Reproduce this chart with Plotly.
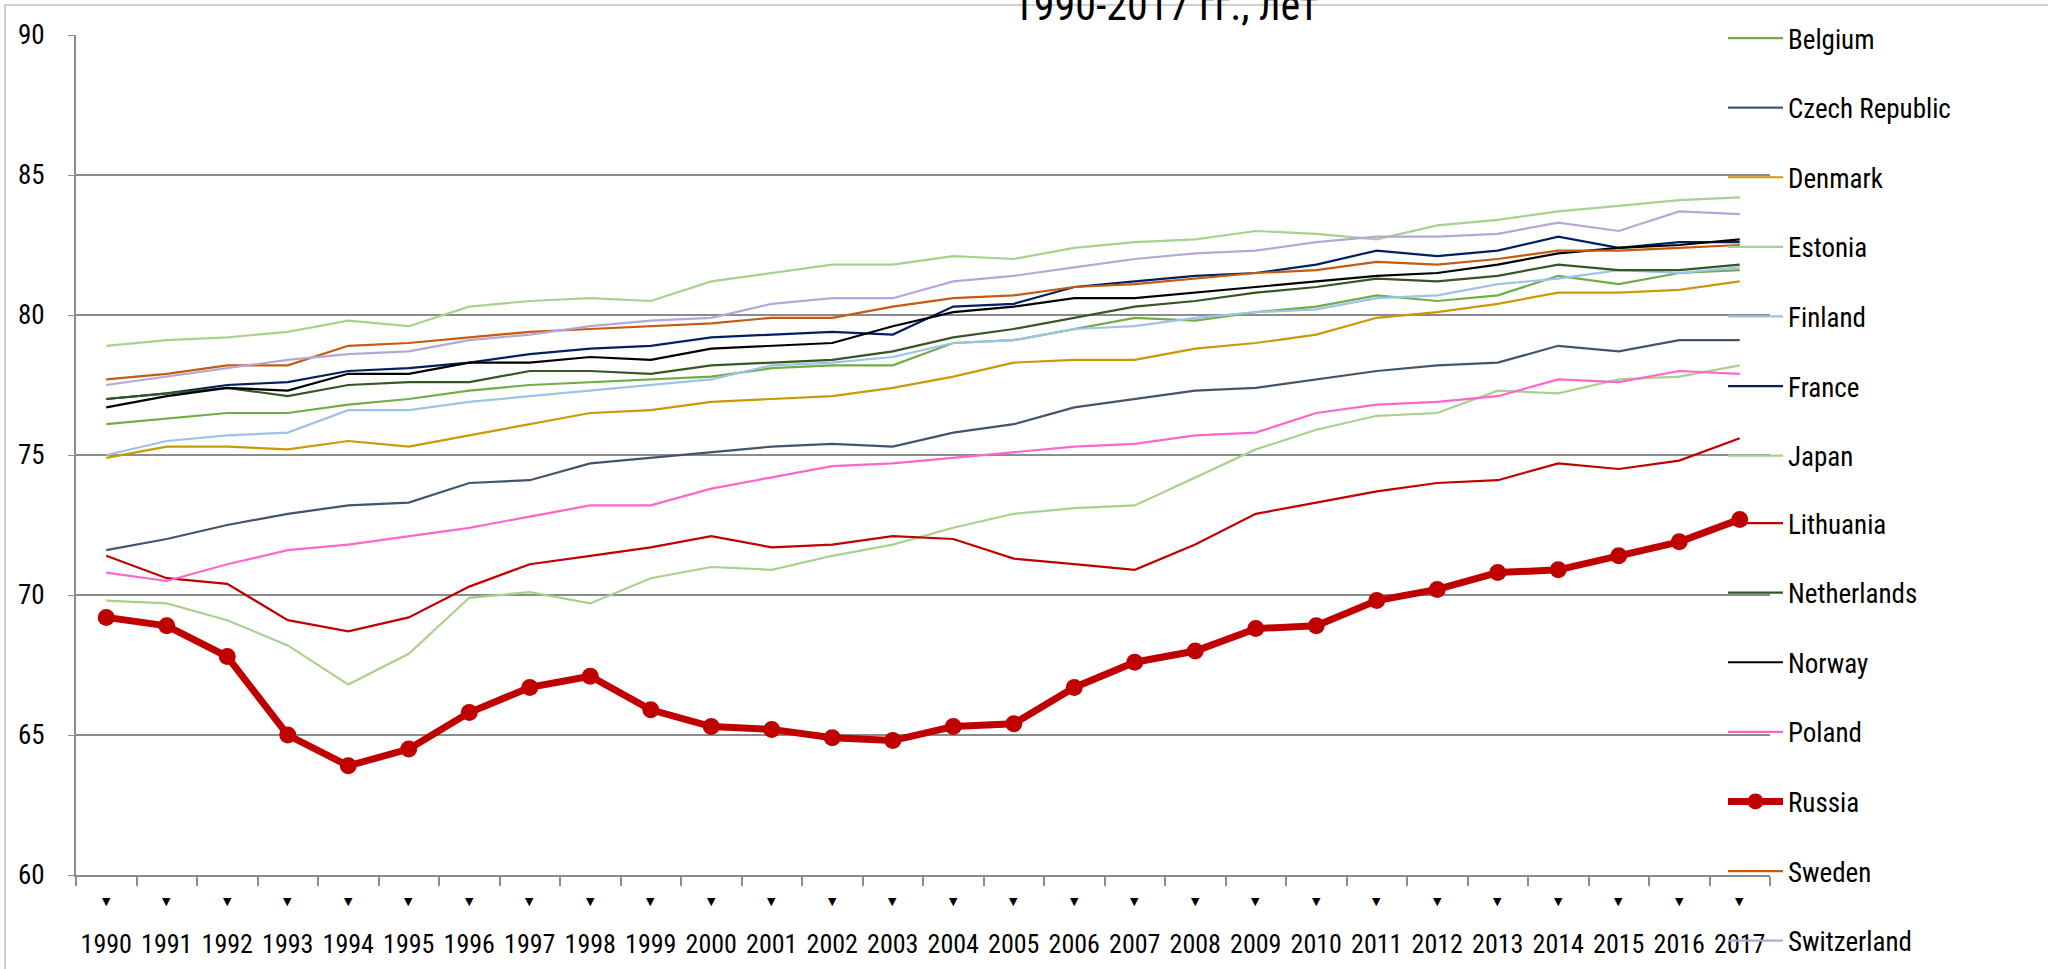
import plotly.graph_objects as go

years = [str(y) for y in range(1990, 2018)]

belgium = [76.1, 76.3, 76.5, 76.5, 76.8, 77.0, 77.3, 77.5, 77.6, 77.7, 77.8, 78.1, 78.2, 78.2, 79.0, 79.1, 79.5, 79.9, 79.8, 80.1, 80.3, 80.7, 80.5, 80.7, 81.4, 81.1, 81.5, 81.6]
czech = [71.6, 72.0, 72.5, 72.9, 73.2, 73.3, 74.0, 74.1, 74.7, 74.9, 75.1, 75.3, 75.4, 75.3, 75.8, 76.1, 76.7, 77.0, 77.3, 77.4, 77.7, 78.0, 78.2, 78.3, 78.9, 78.7, 79.1, 79.1]
denmark = [74.9, 75.3, 75.3, 75.2, 75.5, 75.3, 75.7, 76.1, 76.5, 76.6, 76.9, 77.0, 77.1, 77.4, 77.8, 78.3, 78.4, 78.4, 78.8, 79.0, 79.3, 79.9, 80.1, 80.4, 80.8, 80.8, 80.9, 81.2]
estonia = [69.8, 69.7, 69.1, 68.2, 66.8, 67.9, 69.9, 70.1, 69.7, 70.6, 71.0, 70.9, 71.4, 71.8, 72.4, 72.9, 73.1, 73.2, 74.2, 75.2, 75.9, 76.4, 76.5, 77.3, 77.2, 77.7, 77.8, 78.2]
finland = [75.0, 75.5, 75.7, 75.8, 76.6, 76.6, 76.9, 77.1, 77.3, 77.5, 77.7, 78.2, 78.3, 78.5, 79.0, 79.1, 79.5, 79.6, 79.9, 80.1, 80.2, 80.6, 80.7, 81.1, 81.3, 81.6, 81.5, 81.7]
france = [77.0, 77.2, 77.5, 77.6, 78.0, 78.1, 78.3, 78.6, 78.8, 78.9, 79.2, 79.3, 79.4, 79.3, 80.3, 80.4, 81.0, 81.2, 81.4, 81.5, 81.8, 82.3, 82.1, 82.3, 82.8, 82.4, 82.6, 82.6]
japan = [78.9, 79.1, 79.2, 79.4, 79.8, 79.6, 80.3, 80.5, 80.6, 80.5, 81.2, 81.5, 81.8, 81.8, 82.1, 82.0, 82.4, 82.6, 82.7, 83.0, 82.9, 82.7, 83.2, 83.4, 83.7, 83.9, 84.1, 84.2]
lithuania = [71.4, 70.6, 70.4, 69.1, 68.7, 69.2, 70.3, 71.1, 71.4, 71.7, 72.1, 71.7, 71.8, 72.1, 72.0, 71.3, 71.1, 70.9, 71.8, 72.9, 73.3, 73.7, 74.0, 74.1, 74.7, 74.5, 74.8, 75.6]
netherlands = [77.0, 77.2, 77.4, 77.1, 77.5, 77.6, 77.6, 78.0, 78.0, 77.9, 78.2, 78.3, 78.4, 78.7, 79.2, 79.5, 79.9, 80.3, 80.5, 80.8, 81.0, 81.3, 81.2, 81.4, 81.8, 81.6, 81.6, 81.8]
norway = [76.7, 77.1, 77.4, 77.3, 77.9, 77.9, 78.3, 78.3, 78.5, 78.4, 78.8, 78.9, 79.0, 79.6, 80.1, 80.3, 80.6, 80.6, 80.8, 81.0, 81.2, 81.4, 81.5, 81.8, 82.2, 82.4, 82.5, 82.7]
poland = [70.8, 70.5, 71.1, 71.6, 71.8, 72.1, 72.4, 72.8, 73.2, 73.2, 73.8, 74.2, 74.6, 74.7, 74.9, 75.1, 75.3, 75.4, 75.7, 75.8, 76.5, 76.8, 76.9, 77.1, 77.7, 77.6, 78.0, 77.9]
russia = [69.2, 68.9, 67.8, 65.0, 63.9, 64.5, 65.8, 66.7, 67.1, 65.9, 65.3, 65.2, 64.9, 64.8, 65.3, 65.4, 66.7, 67.6, 68.0, 68.8, 68.9, 69.8, 70.2, 70.8, 70.9, 71.4, 71.9, 72.7]
sweden = [77.7, 77.9, 78.2, 78.2, 78.9, 79.0, 79.2, 79.4, 79.5, 79.6, 79.7, 79.9, 79.9, 80.3, 80.6, 80.7, 81.0, 81.1, 81.3, 81.5, 81.6, 81.9, 81.8, 82.0, 82.3, 82.3, 82.4, 82.5]
switzerland = [77.5, 77.8, 78.1, 78.4, 78.6, 78.7, 79.1, 79.3, 79.6, 79.8, 79.9, 80.4, 80.6, 80.6, 81.2, 81.4, 81.7, 82.0, 82.2, 82.3, 82.6, 82.8, 82.8, 82.9, 83.3, 83.0, 83.7, 83.6]

countries = ["Belgium", "Czech Republic", "Denmark", "Estonia", "Finland", "France", "Japan",
             "Lithuania", "Netherlands", "Norway", "Poland", "Russia", "Sweden", "Switzerland"]
series = [belgium, czech, denmark, estonia, finland, france, japan,
          lithuania, netherlands, norway, poland, russia, sweden, switzerland]
colors = ["#70AD47", "#44546A", "#C99A06", "#A9D18E", "#9DC3E6", "#002060", "#A9D18E",
          "#C00000", "#375623", "#000000", "#FF66CC", "#C00000", "#C55A11", "#B4A7D6"]

title_text = "1990-2017 гг., лет"
FONT = "Liberation Sans Narrow, Arial Narrow, Roboto Condensed, sans-serif"

W, H = 2048, 969
L, R, T, B = 76, 1770, 35, 875
pw, ph = R - L, B - T


def px2paper_x(px):
    return (px - L) / pw


def px2paper_y(py):
    return (B - py) / ph


fig = go.Figure()
for i, (name, vals, col) in enumerate(zip(countries, series, colors)):
    leg = "legend" if i < 7 else "legend2"
    if name == "Russia":
        fig.add_trace(go.Scatter(x=years, y=vals, name=name, mode="lines+markers",
                                 line=dict(color=col, width=7),
                                 marker=dict(color=col, size=17, symbol="circle"),
                                 legendgroup=name, legend=leg))
    else:
        fig.add_trace(go.Scatter(x=years, y=vals, name=name, mode="lines",
                                 line=dict(color=col, width=2.2), legendgroup=name, legend=leg))

# small triangles under each category (text annotations tied to the category index)
tri_annotations = [dict(text="▼", x=i, xref="x", yref="paper", y=px2paper_y(902),
                        showarrow=False, xanchor="center", yanchor="middle",
                        font=dict(size=11, family="DejaVu Sans", color="#000000"))
                   for i, _ in enumerate(years)]

legend_common = dict(xanchor="left", yanchor="top", font=dict(size=27, family=FONT),
                     tracegroupgap=31.5, itemwidth=55, bgcolor="rgba(0,0,0,0)")

fig.update_layout(
    width=W, height=H,
    margin=dict(l=L, r=W - R, t=T, b=H - B, autoexpand=False),
    paper_bgcolor="white", plot_bgcolor="white",
    font=dict(family=FONT, size=26, color="#000000"),
    showlegend=True,
    legend=dict(x=px2paper_x(1723), y=px2paper_y(14), **legend_common),
    legend2=dict(x=px2paper_x(1723), y=px2paper_y(499), **legend_common),
    xaxis=dict(type="category", range=[-0.5, 27.5], showgrid=False,
               showline=True, linecolor="#8C8C8C", linewidth=2,
               ticks="outside", tickson="boundaries", ticklen=9, tickcolor="#8C8C8C",
               tickwidth=1.5, tickangle=0, ticklabelstandoff=45,
               tickfont=dict(size=26, family=FONT)),
    yaxis=dict(range=[60, 90], dtick=5, tick0=60, showgrid=True, gridcolor="#8C8C8C",
               gridwidth=2, showline=True, linecolor="#8C8C8C", linewidth=2,
               ticks="outside", ticklen=6, tickcolor="#8C8C8C", zeroline=False,
               ticklabelstandoff=18, tickfont=dict(size=27, family=FONT)),
    annotations=[dict(text=title_text, xref="paper", yref="paper",
                      x=px2paper_x(1165), y=px2paper_y(6), xanchor="center", yanchor="middle",
                      showarrow=False, font=dict(size=42, family=FONT, color="#000000"))]
                + tri_annotations,
    shapes=[dict(type="rect", xref="paper", yref="paper", layer="below",
                 x0=px2paper_x(5), x1=px2paper_x(2070), y0=px2paper_y(990), y1=px2paper_y(5),
                 line=dict(color="#D0D0D0", width=2), fillcolor="rgba(0,0,0,0)")],
)

fig.write_html("out.html", config={"displayModeBar": False},
               post_script="document.body.style.margin='0px';")
